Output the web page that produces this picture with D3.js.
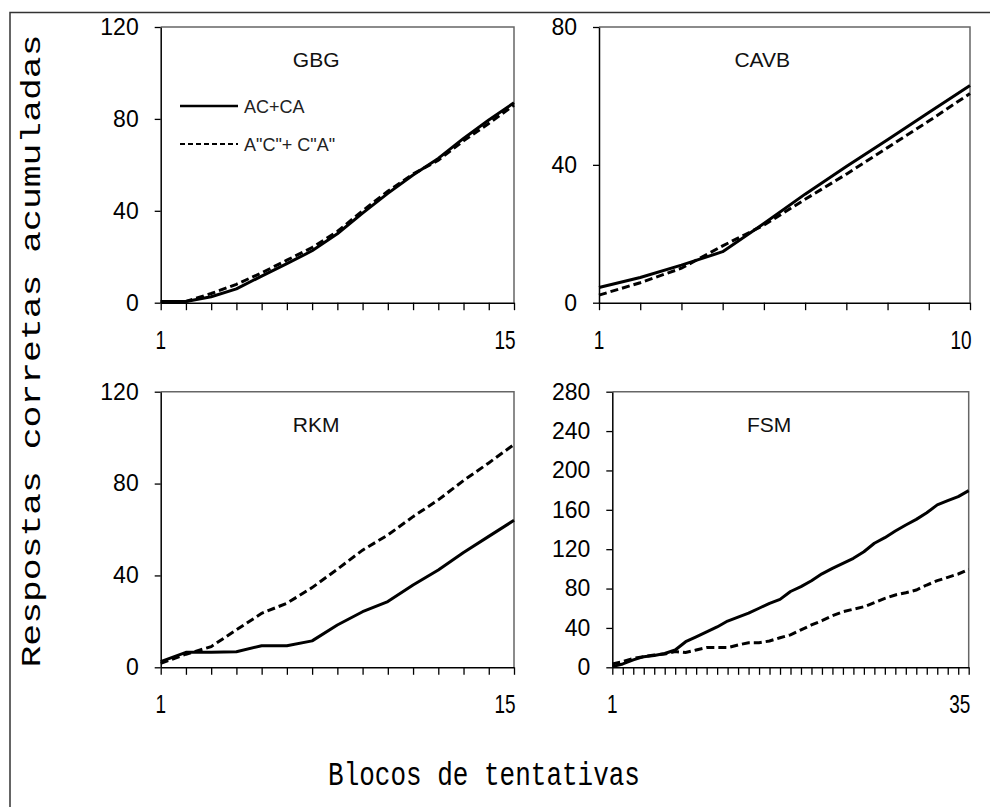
<!DOCTYPE html>
<html>
<head>
<meta charset="utf-8">
<script src="https://cdn.jsdelivr.net/npm/d3@7"></script>
<style>
  body { margin: 0; background: #fff; }
  svg { display: block; }
</style>
</head>
<body>
<svg id="chart"></svg>
<script>
// cumulative correct responses per block
const gbgSolid  = [0.5, 0.5, 2.6, 6, 11.6, 17, 22.6, 30, 39, 47.6, 55.6, 62.8, 71.5, 79.5, 87];
const gbgDashed = [0.5, 0.5, 4, 8, 13, 18.5, 24, 31, 40, 48.5, 56, 62, 70.5, 78, 86];

const cavbSolid  = [4.4, 7.3, 10.9, 14.8, 23, 31.5, 39.5, 47.3, 55.2, 63];
const cavbDashed = [2.2, 5.8, 10, 16.5, 22.5, 30, 37.3, 45, 52.7, 60.7];

const rkmSolid  = [2.5, 6.5, 6.5, 6.8, 9.4, 9.4, 11.5, 18.4, 24.2, 28.6, 35.8, 42.4, 50, 57, 64];
const rkmDashed = [1.7, 5.7, 9, 16.3, 23.5, 27.9, 34.7, 42.7, 51, 57.6, 65.6, 72.9, 81.3, 89, 97];

const fsmSolid  = [0.7, 3.4, 7.5, 10.8, 12, 14, 17.6, 26, 31, 36, 41, 47, 51, 55, 60, 65, 69,
                   77, 82, 88, 95, 100.5, 105.6, 110.7, 117.4, 126, 131.7, 138.5, 144.6, 150.3,
                   157, 165, 169.3, 173.4, 179.5];
const fsmDashed = [3.4, 5.8, 9, 10.8, 12.5, 13.5, 16, 15, 17.6, 20, 20, 20, 22.7, 25, 25, 26.7, 30,
                   33, 38, 43, 47.4, 52.4, 56.5, 59, 61.5, 65.7, 70, 73.5, 75.8, 78.5,
                   83.6, 88, 91.4, 94.8, 99.5];

const titles = ["GBG", "CAVB", "RKM", "FSM"];
const yTicks = [[0, 40, 80, 120], [0, 40, 80], [0, 40, 80, 120], [0, 40, 80, 120, 160, 200, 240, 280]];
const legendLabels = ["AC+CA", "A\"C\"+ C\"A\""];

const width = 990, height = 807;

// panel boxes
const boxes = [
    { left: 160.7, right: 514,   top: 27,    bottom: 302.7 },
    { left: 599,   right: 970,   top: 27,    bottom: 302.7 },
    { left: 160.7, right: 514,   top: 391.7, bottom: 667.3 },
    { left: 612.3, right: 968.7, top: 391.7, bottom: 667.3 }
];
const series = [
    [gbgSolid, gbgDashed],
    [cavbSolid, cavbDashed],
    [rkmSolid, rkmDashed],
    [fsmSolid, fsmDashed]
];

const svg = d3.select("#chart")
    .attr("width", width)
    .attr("height", height);

// outer frame (top and left edges only)
svg.append("path")
    .attr("d", `M10,${height} V12.5 H${width}`)
    .attr("fill", "none")
    .attr("stroke", "#333")
    .attr("stroke-width", 1.5);

boxes.forEach((b, p) => {
    const [solid, dashed] = series[p];
    const n = solid.length;
    const ticks = yTicks[p];

    const x = d3.scaleLinear().domain([1, n]).range([b.left, b.right]);
    const y = d3.scaleLinear().domain([0, ticks[ticks.length - 1]]).range([b.bottom, b.top]);

    const g = svg.append("g");

    // plot frame top + right
    g.append("path")
        .attr("d", `M${b.left},${b.top} H${b.right} V${b.bottom}`)
        .attr("fill", "none")
        .attr("stroke", "#666")
        .attr("stroke-width", 1.5);

    // y axis
    const yAxis = g.append("g")
        .attr("transform", `translate(${b.left},0)`)
        .call(d3.axisLeft(y).tickValues(ticks).tickSize(6).tickPadding(16).tickSizeOuter(0));
    yAxis.select(".domain").attr("stroke", "#000").attr("stroke-width", 1.5);
    yAxis.selectAll(".tick line").attr("stroke", "#000").attr("stroke-width", 1.3);
    yAxis.selectAll("text")
        .attr("font-family", "Liberation Sans, Arial, sans-serif")
        .attr("font-size", 23)
        .attr("fill", "#000");

    // x axis: a tick for every block, labels only on first and last
    const xAxis = g.append("g")
        .attr("transform", `translate(0,${b.bottom})`)
        .call(d3.axisBottom(x).tickValues(d3.range(1, n + 1)).tickSize(7.5).tickSizeOuter(0).tickFormat(""));
    xAxis.select(".domain").attr("stroke", "#000").attr("stroke-width", 1.5);
    xAxis.selectAll(".tick line").attr("stroke", "#000").attr("stroke-width", 1.3);

    [[1, 0], [n, -9]].forEach(([v, off]) => {
        g.append("text")
            .attr("transform", `translate(${x(v) + off},${b.bottom + 46}) scale(1,1.35)`)
            .attr("text-anchor", "middle")
            .attr("font-family", "Liberation Sans, Arial, sans-serif")
            .attr("font-size", 19)
            .attr("fill", "#000")
            .text(v);
    });

    // panel title
    g.append("text")
        .attr("x", b.left + (b.right - b.left) * 0.44)
        .attr("y", b.top + 40)
        .attr("text-anchor", "middle")
        .attr("font-family", "Liberation Sans, Arial, sans-serif")
        .attr("font-size", 21)
        .attr("fill", "#111")
        .text(titles[p]);

    const line = d3.line()
        .x((d, i) => x(i + 1))
        .y(d => y(d));

    g.append("path")
        .datum(solid)
        .attr("fill", "none")
        .attr("stroke", "#000")
        .attr("stroke-width", 3)
        .attr("stroke-linejoin", "round")
        .attr("d", line);

    g.append("path")
        .datum(dashed)
        .attr("fill", "none")
        .attr("stroke", "#000")
        .attr("stroke-width", 3)
        .attr("stroke-dasharray", "8,4")
        .attr("d", line);
});

// legend inside the first panel
const leg = svg.append("g");
legendLabels.forEach((lab, i) => {
    const ly = 106 + i * 38;
    leg.append("line")
        .attr("x1", 180).attr("x2", 238)
        .attr("y1", ly).attr("y2", ly)
        .attr("stroke", "#000")
        .attr("stroke-width", i === 0 ? 2.5 : 2.2)
        .attr("stroke-dasharray", i === 0 ? null : "5,3");
    leg.append("text")
        .attr("x", 244)
        .attr("y", ly + 7)
        .attr("font-family", "Liberation Sans, Arial, sans-serif")
        .attr("font-size", 18)
        .attr("fill", "#222")
        .text(lab);
});

// axis titles
svg.append("text")
    .attr("transform", "translate(40,351) rotate(-90)")
    .attr("text-anchor", "middle")
    .attr("font-family", "Liberation Mono, Courier New, monospace")
    .attr("font-size", 28)
    .attr("textLength", 633)
    .attr("lengthAdjust", "spacingAndGlyphs")
    .attr("fill", "#000")
    .text("Respostas corretas acumuladas");

svg.append("text")
    .attr("transform", "translate(484,785) scale(1,1.3)")
    .attr("text-anchor", "middle")
    .attr("font-family", "Liberation Mono, Courier New, monospace")
    .attr("font-size", 26)
    .attr("fill", "#000")
    .text("Blocos de tentativas");
</script>
</body>
</html>
